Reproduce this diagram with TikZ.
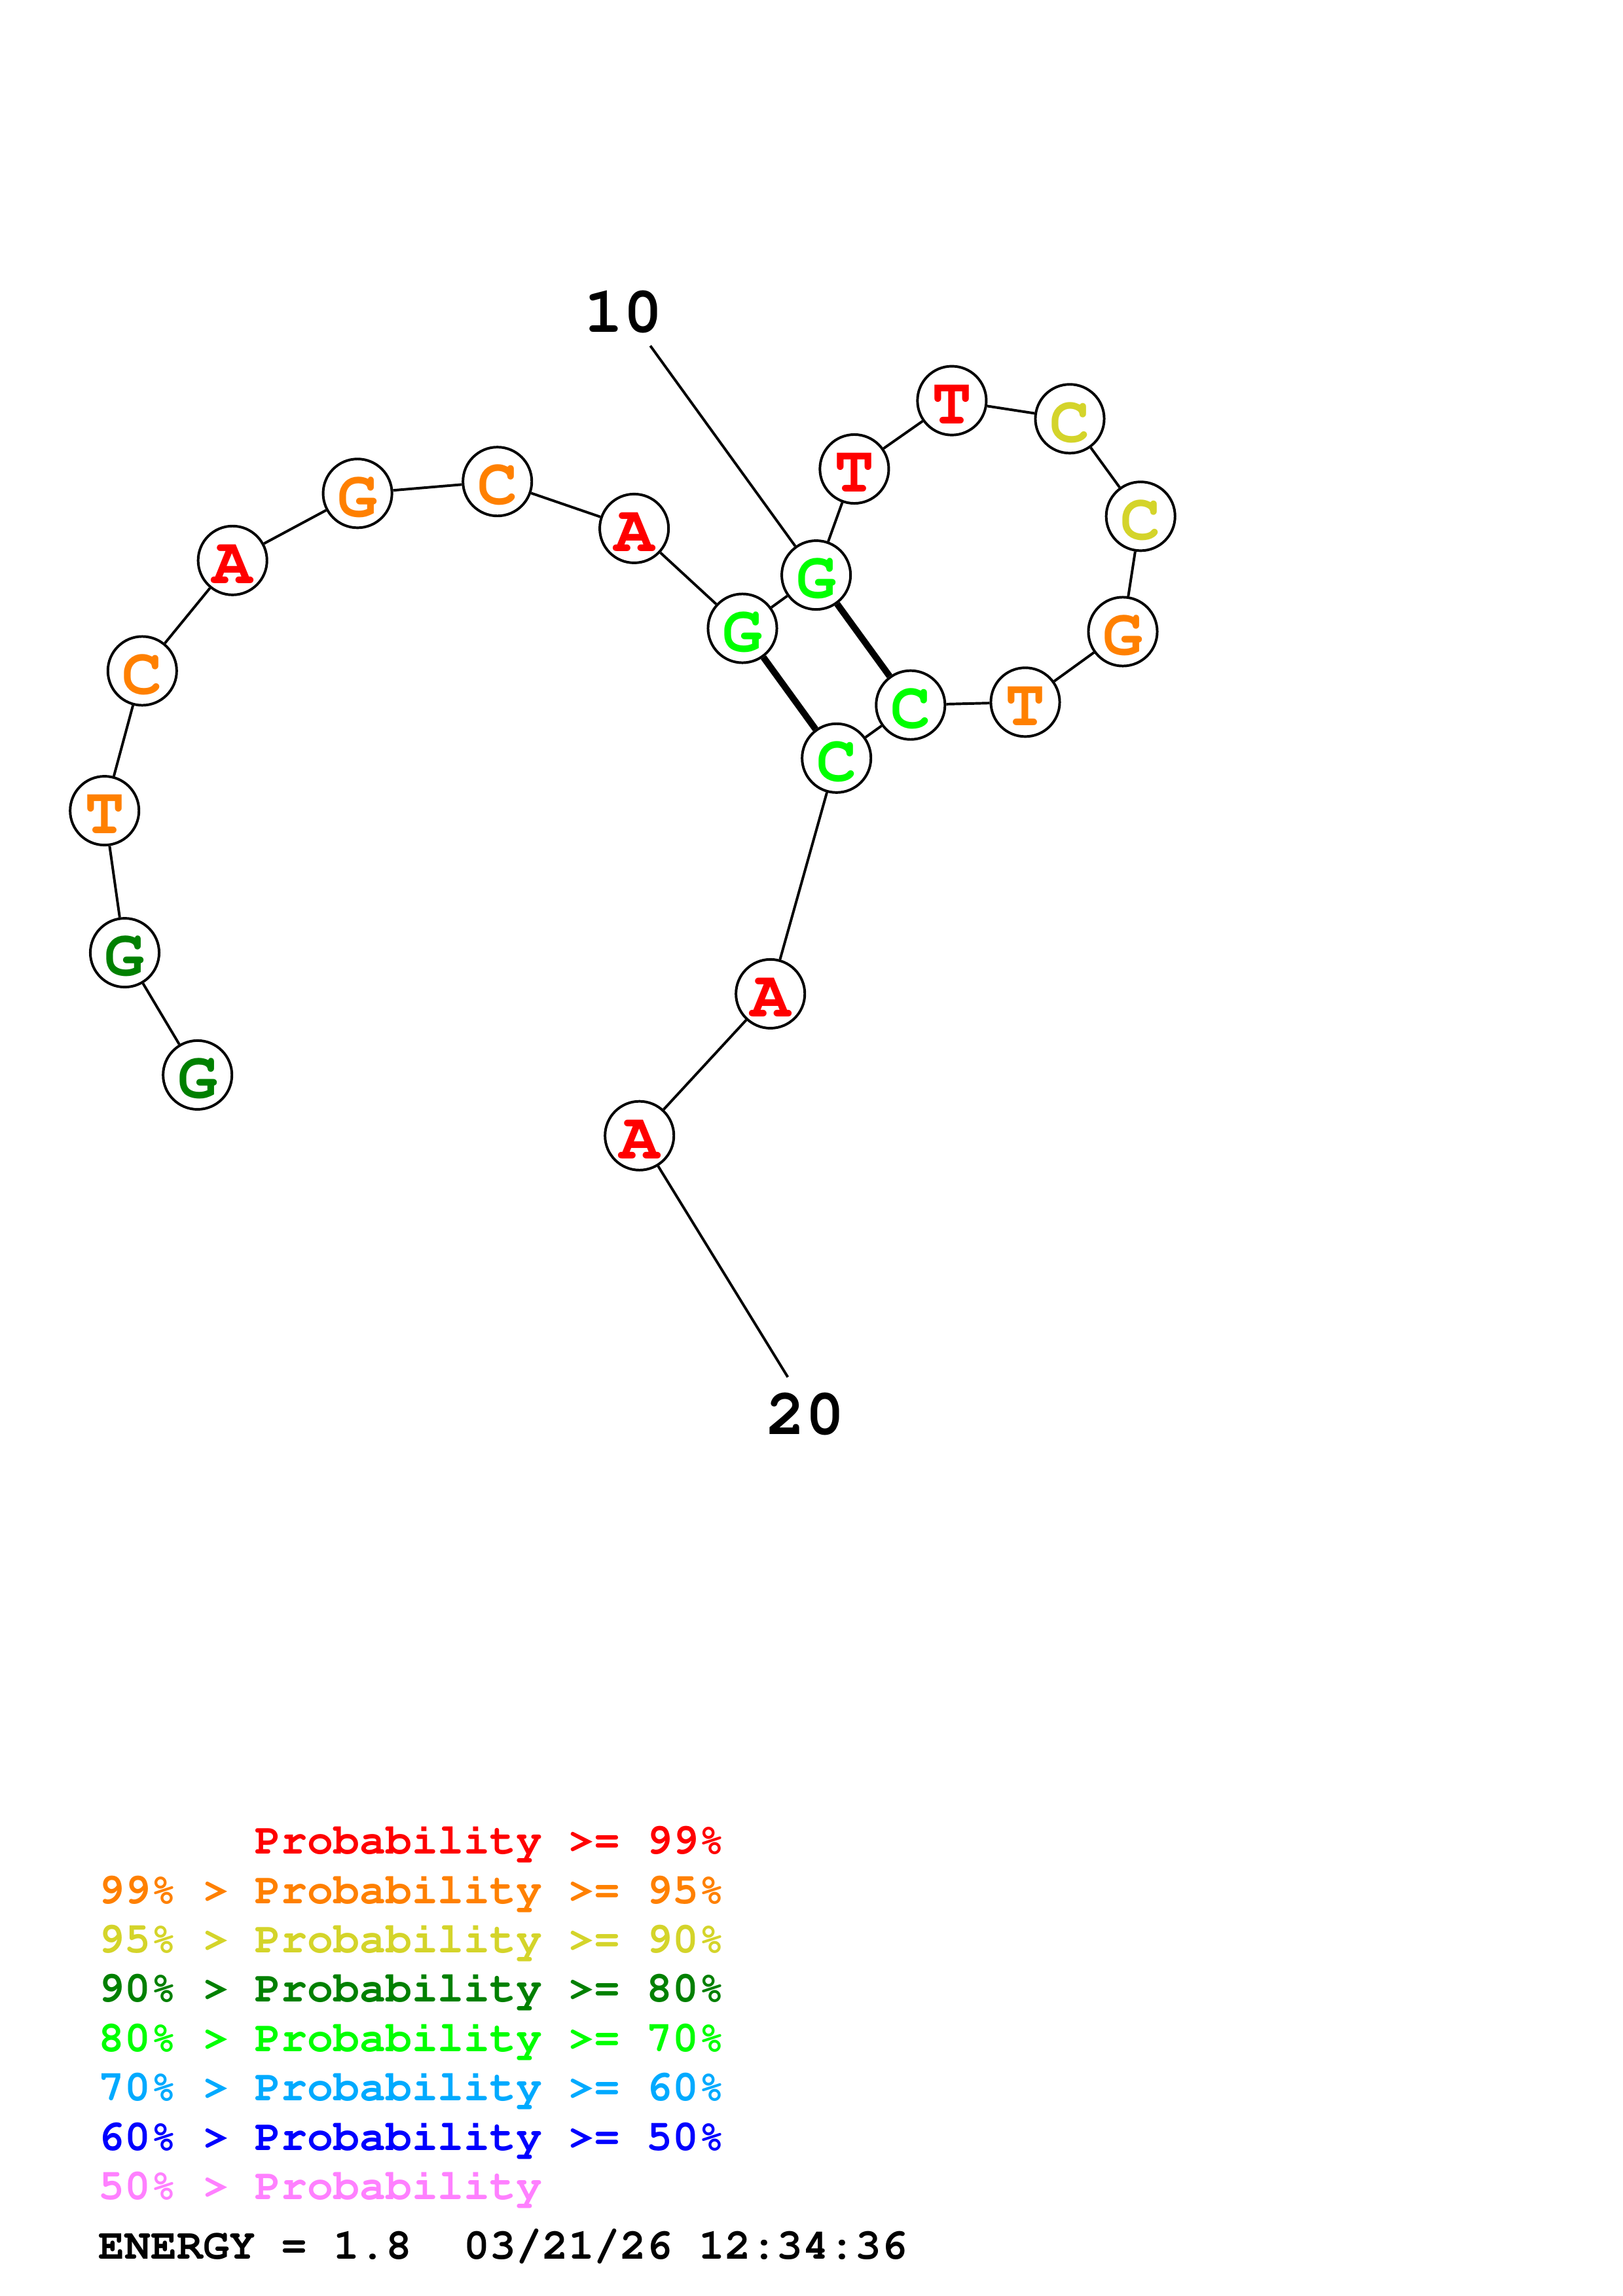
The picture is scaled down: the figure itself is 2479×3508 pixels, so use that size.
\documentclass[tikz,border=0pt]{standalone}
\usepackage[T1]{fontenc}
\renewcommand{\rmdefault}{pcr}
\definecolor{pa}{RGB}{255,0,0}
\definecolor{pb}{RGB}{255,128,0}
\definecolor{pc}{RGB}{212,212,42}
\definecolor{pd}{RGB}{0,128,0}
\definecolor{pe}{RGB}{0,255,0}
\definecolor{pf}{RGB}{0,170,255}
\definecolor{pg}{RGB}{0,0,255}
\definecolor{ph}{RGB}{255,128,255}
\begin{document}
\begin{tikzpicture}[x=0.084667mm, y=-0.084667mm,
  base/.style={draw, circle, fill=white, line width=0.95pt, minimum size=8.9mm, inner sep=0pt, text height=17pt, text depth=0pt, font=\fontsize{24.5}{24.5}\selectfont\bfseries},
  tag/.style={inner sep=0pt, font=\fontsize{24}{24}\selectfont\bfseries},
  legend/.style={anchor=base west, inner sep=0pt, font=\fontsize{16}{16}\selectfont\bfseries},
  backbone/.style={line width=0.95pt},
  pair/.style={line width=2.4pt}]

  \useasboundingbox (0,0) rectangle (2479,3508);

  \node[base, text=pd] (b1) at (301.7,1642.4) {G};
  \node[base, text=pd] (b2) at (190.5,1455.6) {G};
  \node[base, text=pb] (b3) at (159.7,1238.6) {T};
  \node[base, text=pb] (b4) at (217.3,1025) {C};
  \node[base, text=pa] (b5) at (355.2,856.3) {A};
  \node[base, text=pb] (b6) at (546.1,753.8) {G};
  \node[base, text=pb] (b7) at (759.7,735.7) {C};
  \node[base, text=pa] (b8) at (968.6,807.4) {A};
  \node[base, text=pe] (b9) at (1134,960) {G};
  \node[base, text=pe] (b10) at (1246.6,878.6) {G};
  \node[base, text=pa] (b11) at (1304.9,716.5) {T};
  \node[base, text=pa] (b12) at (1453.9,612.1) {T};
  \node[base, text=pc] (b13) at (1634,639.8) {C};
  \node[base, text=pc] (b14) at (1742.2,788.8) {C};
  \node[base, text=pb] (b15) at (1715,965) {G};
  \node[base, text=pb] (b16) at (1566,1072.8) {T};
  \node[base, text=pe] (b17) at (1390.8,1077.2) {C};
  \node[base, text=pe] (b18) at (1277.7,1158.3) {C};
  \node[base, text=pa] (b19) at (1176.7,1518.4) {A};
  \node[base, text=pa] (b20) at (976.7,1735.2) {A};

  \draw[backbone] (b1) -- (b2) -- (b3) -- (b4) -- (b5) -- (b6) -- (b7) -- (b8) -- (b9) -- (b10)
    -- (b11) -- (b12) -- (b13) -- (b14) -- (b15) -- (b16) -- (b17) -- (b18) -- (b19) -- (b20);
  \draw[pair] (b9) -- (b18);
  \draw[pair] (b10) -- (b17);

  \node[tag] (l10) at (952.5,477.5) {10};
  \coordinate (c10) at (993.3,528.3);
  \draw[backbone] (b10) -- (c10);
  \node[tag] (l20) at (1230,2161) {20};
  \coordinate (c20) at (1203.3,2104);
  \draw[backbone] (b20) -- (c20);

  \node[legend, text=pa] (k1) at (150,2832.6) {\phantom{99\% > }Probability >= 99\%};
  \node[legend, text=pb] (k2) at (150,2908.0) {99\% > Probability >= 95\%};
  \node[legend, text=pc] (k3) at (150,2983.4) {95\% > Probability >= 90\%};
  \node[legend, text=pd] (k4) at (150,3058.8) {90\% > Probability >= 80\%};
  \node[legend, text=pe] (k5) at (150,3134.2) {80\% > Probability >= 70\%};
  \node[legend, text=pf] (k6) at (150,3209.6) {70\% > Probability >= 60\%};
  \node[legend, text=pg] (k7) at (150,3285.0) {60\% > Probability >= 50\%};
  \node[legend, text=ph] (k8) at (150,3360.4) {50\% > Probability};
  \node[legend] (energy) at (150,3451.8) {ENERGY = 1.8\ \ 03/21/26 12:34:36};

\end{tikzpicture}
\end{document}
